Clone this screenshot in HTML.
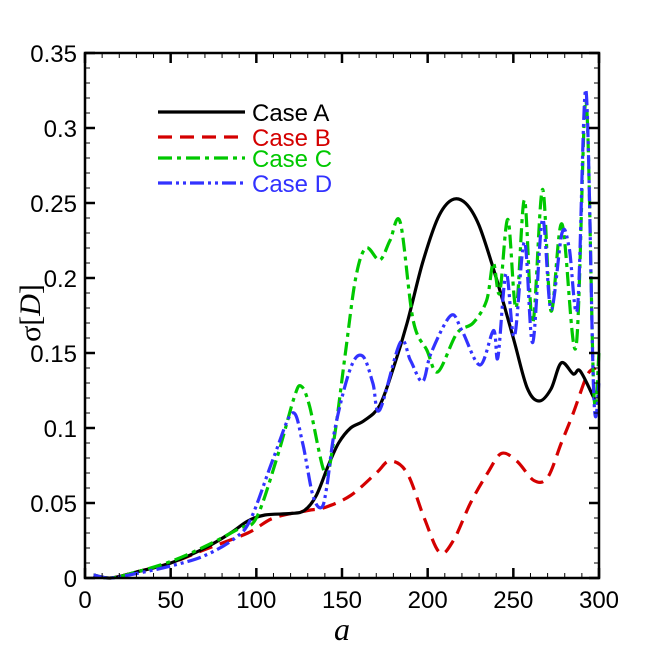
<!DOCTYPE html>
<html><head><meta charset="utf-8"><style>
html,body{margin:0;padding:0;background:#fff;}
svg{display:block;font-family:"Liberation Sans",sans-serif;}
</style></head><body>
<svg id="chart" width="651" height="651" viewBox="0 0 651 651">
<g id="plot"></g>
<g id="axes"></g>
<g id="legend"></g>
</svg>
<script>
const xTicks=[0,50,100,150,200,250,300];
const yTicks=[0,0.05,0.1,0.15,0.2,0.25,0.3,0.35];
const yTickLabels=["0","0.05","0.1","0.15","0.2","0.25","0.3","0.35"];
const seriesNames=["Case A","Case B","Case C","Case D"];
const aA=[5,15,30,50,70,85,95,105,120,128,135,142,148,155,163,172,180,188,197,206,214,222,230,240,250,258,265,272,278,285,289,297];
const vA=[0.002,0,0.004,0.01,0.02,0.03,0.038,0.042,0.043,0.045,0.055,0.075,0.09,0.1,0.105,0.115,0.14,0.17,0.21,0.24,0.252,0.25,0.235,0.2,0.16,0.127,0.118,0.126,0.1435,0.136,0.138,0.12];
const aB=[5,15,30,50,70,95,110,130,140,155,170,178,188,198,207,215,225,235,243,252,262,270,278,285,293,298];
const vB=[0.002,0,0.004,0.01,0.019,0.03,0.04,0.045,0.047,0.055,0.07,0.078,0.07,0.04,0.017,0.025,0.05,0.07,0.083,0.078,0.065,0.067,0.09,0.11,0.135,0.14];
const aC=[5,15,30,50,70,90,100,112,122,126,131,140,145,152,158,164,172,178,184,191.5,199.5,206,217,226.5,234.4,238.3,242,246.8,251.6,256.5,261.3,267,272,278.4,286.6,292.4,297,300];
const vC=[0.002,0,0.004,0.011,0.021,0.033,0.04,0.08,0.12,0.128,0.115,0.07,0.09,0.15,0.2,0.22,0.212,0.225,0.237,0.172,0.152,0.1375,0.163,0.17,0.185,0.21,0.19,0.239,0.18,0.252,0.17,0.259,0.178,0.236,0.154,0.318,0.123,0.15];
const aD=[5,15,30,50,70,88,97,110,121,127,133,138,141,146,155,162,168,172,184,190,197,202,213.5,220,230.5,238.4,241,245.8,250.6,256.5,261.3,267,272,278.4,282.6,287.5,292.4,297,300];
const vD=[0.002,0,0.003,0.008,0.015,0.027,0.04,0.08,0.11,0.09,0.055,0.047,0.06,0.1,0.14,0.148,0.13,0.112,0.157,0.145,0.131,0.15,0.175,0.165,0.142,0.165,0.147,0.203,0.161,0.224,0.157,0.239,0.179,0.23,0.22,0.181,0.325,0.12,0.13];

const X0=85,X1=599,Y0=578,Y1=53;
const sx=a=>X0+(a-0)/(300-0)*(X1-X0);
const sy=v=>Y0-(v-0)/(0.35-0)*(Y0-Y1);
const NS="http://www.w3.org/2000/svg";
function mk(tag,attrs,parent){const e=document.createElementNS(NS,tag);for(const k in attrs)e.setAttribute(k,attrs[k]);parent.appendChild(e);return e;}
function pathFrom(xs,vs){
  const p=xs.map((a,i)=>[sx(a),sy(vs[i])]);
  let d="M"+p[0][0].toFixed(1)+","+p[0][1].toFixed(1);
  for(let i=0;i<p.length-1;i++){
    const p0=p[Math.max(0,i-1)],p1=p[i],p2=p[i+1],p3=p[Math.min(p.length-1,i+2)];
    const t=1/6;
    const c1=[p1[0]+(p2[0]-p0[0])*t,p1[1]+(p2[1]-p0[1])*t];
    const c2=[p2[0]-(p3[0]-p1[0])*t,p2[1]-(p3[1]-p1[1])*t];
    d+=" C"+c1.map(n=>n.toFixed(1))+" "+c2.map(n=>n.toFixed(1))+" "+p2.map(n=>n.toFixed(1));
  }
  return d;
}
const plot=document.getElementById('plot'),axes=document.getElementById('axes'),legend=document.getElementById('legend');
const styles=[{c:"#000",d:""},{c:"#d40000",d:"14,8"},{c:"#00c800",d:"14,5,4,5"},{c:"#3232ff",d:"14,4,3,4,3,4"}];
const data=[[aA,vA],[aB,vB],[aC,vC],[aD,vD]];
const order=[1,0,2,3];
const lineNames=["line-case-a","line-case-b","line-case-c","line-case-d"];
order.forEach(i=>{
  const el=mk('path',{d:pathFrom(data[i][0],data[i][1]),fill:"none",stroke:styles[i].c,"stroke-width":3.2,"stroke-dasharray":styles[i].d,"stroke-linejoin":"round"},plot);
  
  
});
const fr=mk('rect',{x:X0,y:Y1,width:X1-X0,height:Y0-Y1,fill:"none",stroke:"#000","stroke-width":2.5},axes);


for(let a=0;a<=300;a+=10){
  const major=a%50===0,L=major?10:5,x=sx(a);
  mk('line',{x1:x,y1:Y0,x2:x,y2:Y0-L,stroke:"#000","stroke-width":major?2.5:1},axes);
  mk('line',{x1:x,y1:Y1,x2:x,y2:Y1+L,stroke:"#000","stroke-width":major?2.5:1},axes);
}
for(let k=0;k<=35;k++){
  const v=k/100,major=k%5===0,L=major?10:5,y=sy(v);
  mk('line',{x1:X0,y1:y,x2:X0+L,y2:y,stroke:"#000","stroke-width":major?2.5:1},axes);
  mk('line',{x1:X1,y1:y,x2:X1-L,y2:y,stroke:"#000","stroke-width":major?2.5:1},axes);
}
xTicks.forEach(a=>{
  const t=mk('text',{x:sx(a),y:Y0+30,"font-size":24,"text-anchor":"middle"},axes);t.textContent=String(a);
  
  
});
yTicks.forEach((v,i)=>{
  const t=mk('text',{x:X0-8,y:sy(v)+9,"font-size":24,"text-anchor":"end"},axes);t.textContent=yTickLabels[i];
  
  
});
const xl=mk('text',{x:342,y:640,"font-size":32,"font-style":"italic","font-family":"Liberation Serif, serif","text-anchor":"middle"},axes);
xl.textContent="a";


const yl=mk('text',{x:0,y:0,"font-size":30,"font-family":"Liberation Serif, serif","text-anchor":"middle",transform:"translate(40,313) rotate(-90)"},axes);
yl.innerHTML='σ[<tspan font-style="italic">D</tspan>]';


const ly=[112,137,158,183];
const entryNames=["legend-entry-case-a","legend-entry-case-b","legend-entry-case-c","legend-entry-case-d"];
seriesNames.forEach((n,i)=>{
  const g=mk('g',{},legend);
  
  
  mk('line',{x1:158,y1:ly[i],x2:245,y2:ly[i],stroke:styles[i].c,"stroke-width":3.2,"stroke-dasharray":styles[i].d},g);
  const t=mk('text',{x:252,y:ly[i]+9,"font-size":24,fill:styles[i].c},g);t.textContent=n;
});
</script>
</body></html>
